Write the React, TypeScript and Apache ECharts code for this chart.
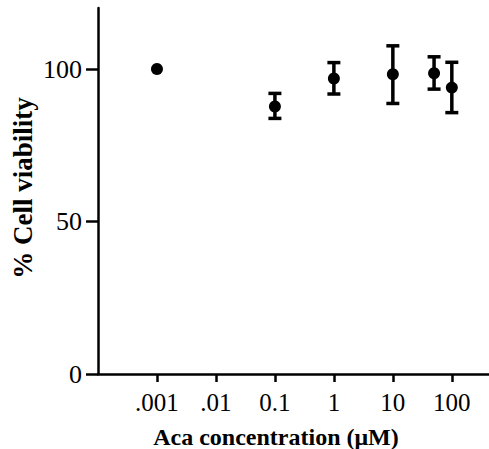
import React, { useEffect, useRef } from "react";
import * as echarts from "echarts";

const concentrations = [0.001, 0.1, 1, 10, 50, 100];
const viability = [100, 87.7, 96.9, 98.3, 98.6, 93.9];
const errLow = [100, 83.8, 91.8, 88.7, 93.4, 85.7];
const errHigh = [100, 92.0, 102.1, 107.6, 104.0, 102.2];
const xTicks = [0.001, 0.01, 0.1, 1, 10, 100];
const xTickLabels = [".001", ".01", "0.1", "1", "10", "100"];
const yTicks = [0, 50, 100];

export default function App() {
  const ref = useRef<HTMLDivElement>(null);
  useEffect(() => {
    const chart = echarts.init(ref.current!, null, { renderer: "svg" });
    const font = "Liberation Serif";
    const errData = concentrations
      .map((c, i) => [c, errLow[i], errHigh[i]])
      .filter((d) => d[1] !== d[2]);
    chart.setOption({
      animation: false,
      grid: { left: 98, top: 8, right: 0, bottom: 75 },
      xAxis: {
        type: "log",
        logBase: 10,
        min: 0.0001,
        max: 427,
        axisLine: { show: true, lineStyle: { color: "#000", width: 2.5 } },
        axisTick: {
          show: true,
          length: 8,
          lineStyle: { color: "#000", width: 2.5 },
          customValues: xTicks,
        },
        axisLabel: {
          customValues: xTicks,
          margin: 16,
          fontFamily: font,
          fontSize: 25,
          color: "#000",
          formatter: (v: number) => {
            const i = xTicks.findIndex((t) => Math.abs(Math.log10(t) - Math.log10(v)) < 1e-6);
            return i >= 0 ? xTickLabels[i] : "";
          },
        },
        splitLine: { show: false },
      },
      yAxis: {
        type: "value",
        min: 0,
        max: 120,
        interval: 50,
        axisLine: { show: true, lineStyle: { color: "#000", width: 2.5 } },
        axisTick: {
          show: true,
          length: 12,
          lineStyle: { color: "#000", width: 2.5 },
          customValues: yTicks,
        },
        axisLabel: {
          customValues: yTicks,
          margin: 16,
          fontFamily: font,
          fontSize: 26,
          color: "#000",
        },
        splitLine: { show: false },
      },
      graphic: [
        {
          type: "text",
          x: 276,
          y: 437,
          style: {
            text: "Aca concentration (μM)",
            fontFamily: font,
            fontSize: 24,
            fontWeight: "bold",
            fill: "#000",
            align: "center",
            verticalAlign: "middle",
          },
        },
        {
          type: "text",
          x: 23,
          y: 188,
          rotation: Math.PI / 2,
          style: {
            text: "% Cell viability",
            fontFamily: font,
            fontSize: 27,
            fontWeight: "bold",
            fill: "#000",
            align: "center",
            verticalAlign: "middle",
          },
        },
      ],
      series: [
        {
          type: "custom",
          data: errData,
          renderItem: (params: any, api: any) => {
            const x = api.value(0);
            const lo = api.coord([x, api.value(1)]);
            const hi = api.coord([x, api.value(2)]);
            const hw = 6.5;
            const style = { stroke: "#000", lineWidth: 3.5 };
            return {
              type: "group",
              children: [
                { type: "line", shape: { x1: lo[0], y1: lo[1], x2: hi[0], y2: hi[1] }, style },
                { type: "line", shape: { x1: lo[0] - hw, y1: lo[1], x2: lo[0] + hw, y2: lo[1] }, style },
                { type: "line", shape: { x1: hi[0] - hw, y1: hi[1], x2: hi[0] + hw, y2: hi[1] }, style },
              ],
            };
          },
          z: 2,
        },
        {
          type: "scatter",
          data: concentrations.map((c, i) => [c, viability[i]]),
          symbol: "circle",
          symbolSize: 12,
          itemStyle: { color: "#000", opacity: 1 },
          z: 3,
        },
      ],
    });
    return () => chart.dispose();
  }, []);
  return (
    <div
      ref={ref}
      style={{ position: "absolute", left: 0, top: 0, width: 489, height: 449 }}
    />
  );
}
